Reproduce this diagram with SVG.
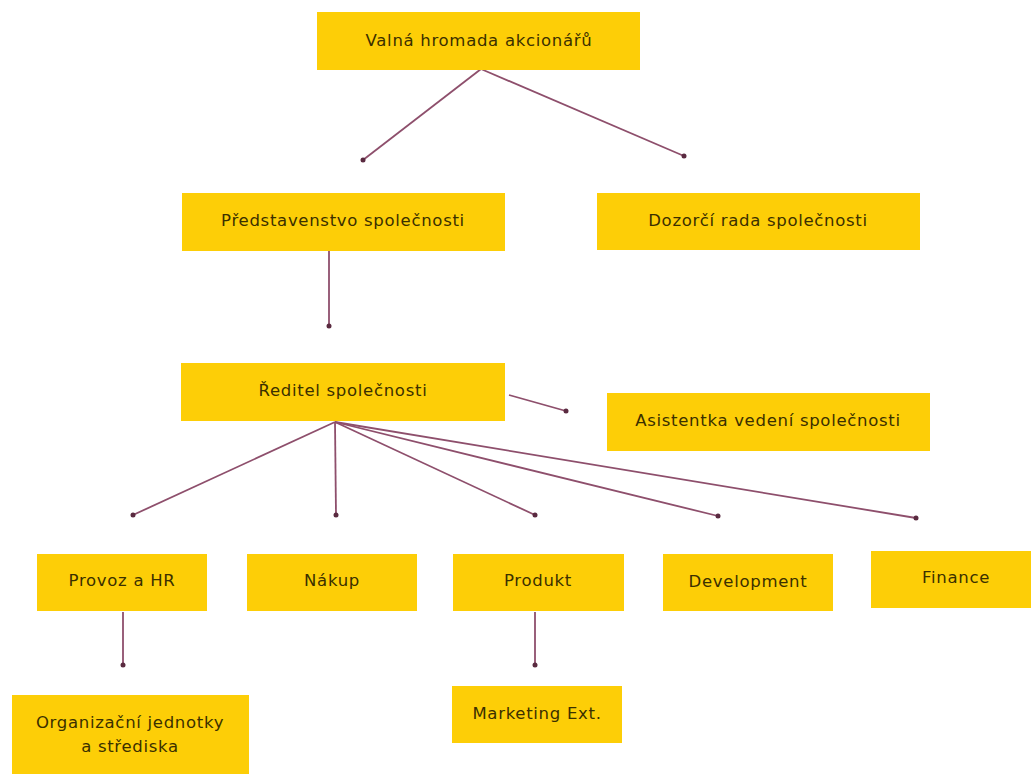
<svg xmlns="http://www.w3.org/2000/svg" width="1031" height="774" viewBox="0 0 1031 774">
<defs>
<style>
.box{fill:#FDCE07;}
.t{font-family:"DejaVu Sans","Noto Sans",sans-serif;font-size:16.5px;letter-spacing:0.7px;fill:#3b3000;text-anchor:middle;dominant-baseline:central;}
.c line{stroke:#8E4F6C;stroke-width:1.8;}
.c circle{fill:#5a2a40;}
</style>
</defs>
<rect width="1031" height="774" fill="#ffffff"/>
<g class="c" id="connectors">
<line x1="481" y1="69" x2="363" y2="160"/><circle cx="363" cy="160" r="2.5"/>
<line x1="481" y1="69" x2="684" y2="156"/><circle cx="684" cy="156" r="2.5"/>
<line x1="329" y1="251" x2="329" y2="326"/><circle cx="329" cy="326" r="2.5"/>
<line x1="509" y1="395" x2="566" y2="411"/><circle cx="566" cy="411" r="2.5"/>
<line x1="335" y1="422" x2="133" y2="515"/><circle cx="133" cy="515" r="2.5"/>
<line x1="335" y1="422" x2="336" y2="515"/><circle cx="336" cy="515" r="2.5"/>
<line x1="335" y1="422" x2="535" y2="515"/><circle cx="535" cy="515" r="2.5"/>
<line x1="335" y1="422" x2="718" y2="516"/><circle cx="718" cy="516" r="2.5"/>
<line x1="335" y1="422" x2="916" y2="518"/><circle cx="916" cy="518" r="2.5"/>
<line x1="123" y1="612" x2="123" y2="665"/><circle cx="123" cy="665" r="2.5"/>
<line x1="535" y1="612" x2="535" y2="665"/><circle cx="535" cy="665" r="2.5"/>
</g>
<g id="valna"><rect class="box" x="317" y="12" width="323" height="58"/><text class="t" x="479" y="40">Valná hromada akcionářů</text></g>
<g id="predstavenstvo"><rect class="box" x="182" y="193" width="323" height="58"/><text class="t" x="343" y="220">Představenstvo společnosti</text></g>
<g id="dozorci"><rect class="box" x="597" y="193" width="323" height="57"/><text class="t" x="758" y="220">Dozorčí rada společnosti</text></g>
<g id="reditel"><rect class="box" x="181" y="363" width="324" height="58"/><text class="t" x="343" y="390">Ředitel společnosti</text></g>
<g id="asistentka"><rect class="box" x="607" y="393" width="323" height="58"/><text class="t" x="768" y="420">Asistentka vedení společnosti</text></g>
<g id="provoz"><rect class="box" x="37" y="554" width="170" height="57"/><text class="t" x="122" y="580">Provoz a HR</text></g>
<g id="nakup"><rect class="box" x="247" y="554" width="170" height="57"/><text class="t" x="332" y="580">Nákup</text></g>
<g id="produkt"><rect class="box" x="453" y="554" width="171" height="57"/><text class="t" x="538" y="580">Produkt</text></g>
<g id="development"><rect class="box" x="663" y="554" width="170" height="57"/><text class="t" x="748" y="581">Development</text></g>
<g id="finance"><rect class="box" x="871" y="551" width="160" height="57"/><text class="t" x="956" y="577">Finance</text></g>
<g id="organizacni"><rect class="box" x="12" y="695" width="237" height="79"/><text class="t" x="130" y="722">Organizační jednotky</text><text class="t" x="130" y="746">a střediska</text></g>
<g id="marketing"><rect class="box" x="452" y="686" width="170" height="57"/><text class="t" x="537" y="713">Marketing Ext.</text></g>
</svg>
